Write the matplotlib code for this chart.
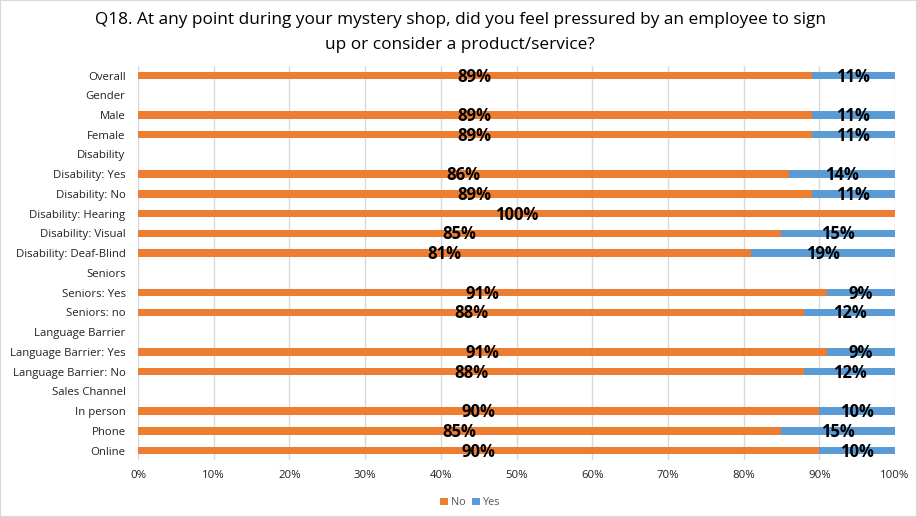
import numpy as np
import matplotlib.pyplot as plt
from matplotlib.patches import Rectangle

plt.rcParams['font.family'] = ['Open Sans', 'DejaVu Sans']

categories = ['Overall', 'Gender', 'Male', 'Female', 'Disability', 'Disability: Yes',
              'Disability: No', 'Disability: Hearing', 'Disability: Visual',
              'Disability: Deaf-Blind', 'Seniors', 'Seniors: Yes', 'Seniors: no',
              'Language Barrier', 'Language Barrier: Yes', 'Language Barrier: No',
              'Sales Channel', 'In person', 'Phone', 'Online']
no_vals = [89, None, 89, 89, None, 86, 89, 100, 85, 81, None, 91, 88, None, 91, 88, None, 90, 85, 90]
yes_vals = [11, None, 11, 11, None, 14, 11, 0, 15, 19, None, 9, 12, None, 9, 12, None, 10, 15, 10]

no = np.array([np.nan if v is None else v for v in no_vals], dtype=float) / 100
yes = np.array([np.nan if v is None else v for v in yes_vals], dtype=float) / 100

fig = plt.figure(figsize=(9.17, 5.17), dpi=100)
ax = fig.add_axes([0.1505, 0.1095, 0.8255, 0.7635])

y = np.arange(len(categories))
c_no = '#ED7D31'
c_yes = '#5B9BD5'
ax.barh(y, no, height=0.38, color=c_no, label='No', zorder=2)
ax.barh(y, yes, left=no, height=0.38, color=c_yes, label='Yes', zorder=2)

for i in range(len(categories)):
    if np.isnan(no[i]):
        continue
    ax.text(no[i] / 2, y[i] + 0.05, f'{no_vals[i]}%', ha='center', va='center',
            fontsize=12, fontweight='bold', color='black', zorder=3)
    if yes[i] > 0:
        ax.text(no[i] + yes[i] / 2, y[i] + 0.05, f'{yes_vals[i]}%', ha='center', va='center',
                fontsize=12, fontweight='bold', color='black', zorder=3)

ax.set_ylim(len(categories) - 0.5, -0.5)
ax.set_xlim(0, 1)
ax.set_yticks(y)
ax.set_yticklabels(categories, fontsize=8.2, color='#222222')
ax.set_xticks(np.arange(0, 1.01, 0.1))
ax.set_xticklabels([f'{int(round(t * 100))}%' for t in np.arange(0, 1.01, 0.1)],
                   fontsize=8.2, color='#222222')
ax.tick_params(axis='y', length=0, pad=9)
ax.tick_params(axis='x', length=0, pad=7)
ax.grid(axis='x', color='#D9D9D9', linewidth=1, zorder=0)
for s in ax.spines.values():
    s.set_visible(False)

fig.suptitle('Q18. At any point during your mystery shop, did you feel pressured by an employee to sign\nup or consider a product/service?',
             x=0.502, y=0.977, fontsize=12.4, linespacing=1.75)

fig.legend(loc='lower center', bbox_to_anchor=(0.513, -0.002), ncol=2, frameon=False,
           fontsize=7.8, handlelength=0.7, handleheight=0.7, handletextpad=0.3,
           columnspacing=0.6, labelcolor='#555555')

fig.patches.append(Rectangle((0, 0), 1, 1, transform=fig.transFigure, fill=False,
                             edgecolor='#D9D9D9', linewidth=1.5))

fig.savefig('out.png', dpi=100)
